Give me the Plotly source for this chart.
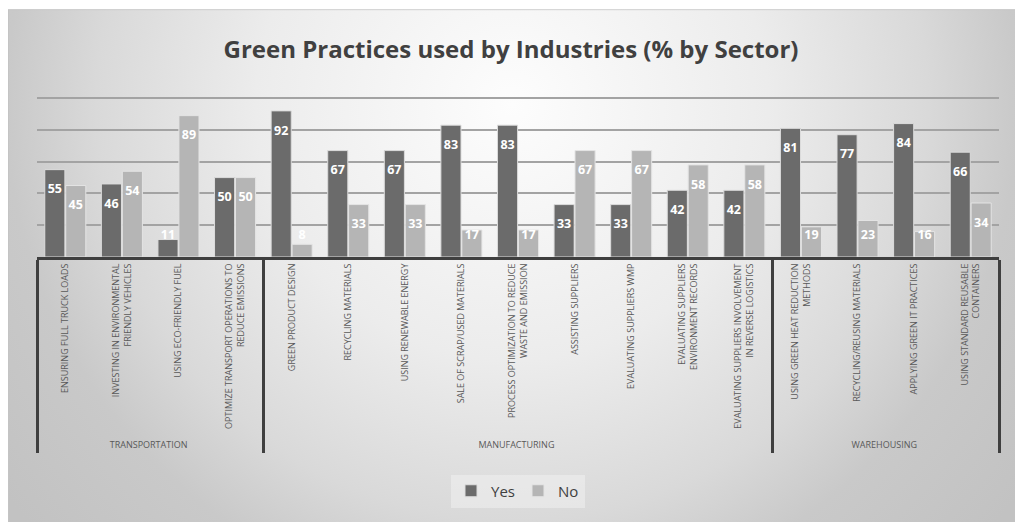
import base64
import plotly.graph_objects as go

# ---------------- data ----------------
sectors = (["TRANSPORTATION"] * 4 + ["MANUFACTURING"] * 9 + ["WAREHOUSING"] * 4)
practices = [
    "ENSURING FULL TRUCK LOADS",
    "INVESTING IN ENVIRONMENTAL<br>FRIENDLY VEHICLES",
    "USING ECO-FRIENDLY FUEL",
    "OPTIMIZE TRANSPORT OPERATIONS TO<br>REDUCE EMISSIONS",
    "GREEN PRODUCT DESIGN",
    "RECYCLING MATERIALS",
    "USING RENEWABLE ENERGY",
    "SALE OF SCRAP/USED MATERIALS",
    "PROCESS OPTIMIZATION TO REDUCE<br>WASTE AND EMISSION",
    "ASSISTING SUPPLIERS",
    "EVALUATING SUPPLIERS WMP",
    "EVALUATING SUPPLIERS<br>ENVIRONMENT RECORDS",
    "EVALUATING SUPPLIERS INVOLVEMENT<br>IN REVERSE LOGISTICS",
    "USING GREEN HEAT REDUCTION<br>METHODS",
    "RECYCLING/REUSING MATERIALS",
    "APPLYING GREEN IT PRACTICES",
    "USING STANDARD REUSABLE<br>CONTAINERS",
]
yes = [55, 46, 11, 50, 92, 67, 67, 83, 83, 33, 33, 42, 42, 81, 77, 84, 66]
no = [45, 54, 89, 50, 8, 33, 33, 17, 17, 67, 67, 58, 58, 19, 23, 16, 34]

# ---------------- style / layout constants ----------------
W, H = 1015, 514
ML, MR, MT, MB = 29, 24, 86.8, 265.3
LABEL_DROP = 13.0      # label sits this far (in % units) below bar end
LABEL_MIN = 13.3       # lowest label position

def label_pos(vals):
    return [max(v - LABEL_DROP, LABEL_MIN) for v in vals]

x_cats = [sectors, practices]

# background radial gradient covering the whole chart box
BY0 = 1
bw, bh = W, H - BY0
svg = f"""<svg xmlns='http://www.w3.org/2000/svg' width='{bw}' height='{bh}' viewBox='0 0 {bw} {bh}' preserveAspectRatio='none'>
<defs><radialGradient id='g' gradientUnits='userSpaceOnUse' cx='504' cy='95' r='640'>
<stop offset='0' stop-color='#fdfdfd'/>
<stop offset='0.4' stop-color='#ececec'/>
<stop offset='0.65' stop-color='#d9d9d9'/>
<stop offset='0.79' stop-color='#c9c9c9'/>
<stop offset='1' stop-color='#c2c2c2'/>
</radialGradient></defs>
<rect x='0' y='0' width='{bw}' height='{bh}' fill='url(#g)'/>
<rect x='0.5' y='0.5' width='{bw}' height='{bh}' fill='none' stroke='#c4c4c4' stroke-width='1'/>
</svg>"""
src = "data:image/svg+xml;base64," + base64.b64encode(svg.encode()).decode()

pw = W - ML - MR
ph = H - MT - MB

fig = go.Figure()
fig.add_trace(go.Bar(
    x=x_cats, y=yes, name="Yes", offsetgroup="yes",
    marker=dict(color="#6b6b6b", line=dict(color="#dcdcdc", width=1)),
))
fig.add_trace(go.Bar(
    x=x_cats, y=no, name="No", offsetgroup="no",
    marker=dict(color="#b5b5b5", line=dict(color="#e4e4e4", width=1)),
))
lbl_font = dict(family="Open Sans", size=12.5, color="white", weight=700)
fig.add_trace(go.Scatter(
    x=x_cats, y=label_pos(yes), mode="text", text=[str(v) for v in yes],
    textfont=lbl_font, offsetgroup="yes", showlegend=False, hoverinfo="skip",
))
fig.add_trace(go.Scatter(
    x=x_cats, y=label_pos(no), mode="text", text=[str(v) for v in no],
    textfont=lbl_font, offsetgroup="no", showlegend=False, hoverinfo="skip",
))

fig.update_layout(
    width=W, height=H,
    margin=dict(l=ML, r=MR, t=MT, b=MB, autoexpand=False),
    paper_bgcolor="white",
    plot_bgcolor="rgba(0,0,0,0)",
    barmode="group", bargap=0.26, bargroupgap=0.04,
    scattermode="group", scattergap=0.26,
    font=dict(family="Open Sans", color="#595959"),
    title=dict(
        text="<b>Green Practices used by Industries (% by Sector)</b>",
        x=503 / W, xanchor="center", xref="container",
        y=1 - 42 / H, yanchor="middle", yref="container",
        font=dict(family="Open Sans", size=24, color="#404040"),
    ),
    legend=dict(
        orientation="h", x=0.5, xanchor="center", xref="paper",
        y=1 - 483 / H, yanchor="middle", yref="container",
        font=dict(family="Open Sans", size=15, color="#404040"),
        bgcolor="rgba(240,240,240,0.55)",
        itemwidth=30, entrywidth=22, entrywidthmode="pixels",
    ),
    xaxis=dict(
        type="multicategory",
        tickangle=-90,
        tickfont=dict(family="Open Sans", size=9, color="#595959"),
        showdividers=True, dividercolor="#3f3f3f", dividerwidth=3,
        showline=True, linecolor="#3f3f3f", linewidth=3,
        ticks="", showgrid=False, automargin=False,
    ),
    yaxis=dict(
        range=[0, 102], tickvals=[20, 40, 60, 80, 100], showticklabels=False,
        showgrid=True, gridcolor="#a3a3a3", gridwidth=1.5,
        zeroline=False, showline=False, automargin=False,
    ),
    images=[dict(
        source=src, xref="paper", yref="paper",
        x=-ML / pw, y=1 + (MT - BY0) / ph,
        sizex=bw / pw, sizey=bh / ph,
        xanchor="left", yanchor="top", sizing="stretch", layer="below",
    )],
)

fig.write_html("out.html")
